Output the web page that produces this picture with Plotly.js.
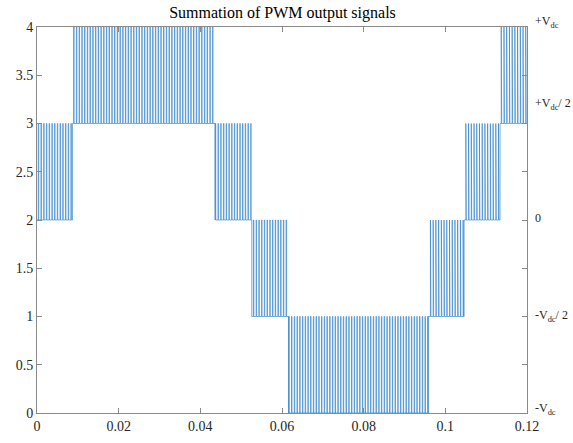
<!DOCTYPE html>
<html>
<head>
<meta charset="utf-8">
<script src="https://cdn.plot.ly/plotly-3.0.1.min.js"></script>
<style>html,body{margin:0;padding:0;background:#fff;}#chart{width:573px;height:443px;}</style>
</head>
<body>
<div id="chart"></div>
<script>
// Band boundaries (ms) and the lower level of each band
var bandEdgesMs = [0, 8.7, 43.6, 52.6, 61.6, 95.8, 104.6, 113.4, 120];
var bandLow = [2, 3, 2, 1, 0, 1, 2, 3];
// Pulse (switching) times, ms
var pulseTimesMs = [0.30,0.97,1.63,2.30,2.97,3.64,4.30,4.97,5.64,6.30,6.97,7.64,8.30,8.97,9.64,10.31,10.97,11.64,12.31,12.97,
13.64,14.31,14.97,15.64,16.31,16.98,17.64,18.31,18.98,19.64,20.31,20.98,21.64,22.31,22.98,23.65,24.31,24.98,25.65,26.31,
26.98,27.65,28.31,28.98,29.65,30.32,30.98,31.65,32.32,32.98,33.65,34.32,34.98,35.65,36.32,36.99,37.65,38.32,38.99,39.65,
40.32,40.99,41.65,42.32,42.99,43.66,44.32,44.99,45.66,46.32,46.99,47.66,48.32,48.99,49.66,50.33,50.99,51.66,52.33,52.99,
53.66,54.33,54.99,55.66,56.33,57.00,57.66,58.33,59.00,59.66,60.33,61.00,61.66,62.33,63.00,63.67,64.33,65.00,65.67,66.33,
67.00,67.67,68.33,69.00,69.67,70.34,71.00,71.67,72.34,73.00,73.67,74.34,75.00,75.67,76.34,77.01,77.67,78.34,79.01,79.67,
80.34,81.01,81.67,82.34,83.01,83.68,84.34,85.01,85.68,86.34,87.01,87.68,88.34,89.01,89.68,90.35,91.01,91.68,92.35,93.01,
93.68,94.35,95.01,95.68,96.35,97.02,97.68,98.35,99.02,99.68,100.35,101.02,101.68,102.35,103.02,103.69,104.35,105.02,105.69,106.35,
107.02,107.69,108.35,109.02,109.69,110.36,111.02,111.69,112.36,113.02,113.69,114.36,115.02,115.69,116.36,117.03,117.69,118.36,119.03,119.69];
var pulseWidthMs = 0.12;
var xTickVals = [0, 0.02, 0.04, 0.06, 0.08, 0.1, 0.12];
var xTickText = ['0', '0.02', '0.04', '0.06', '0.08', '0.1', '0.12'];
var yTickVals = [0, 0.5, 1, 1.5, 2, 2.5, 3, 3.5, 4];
var yTickText = ['0', '0.5', '1', '1.5', '2', '2.5', '3', '3.5', '4'];
var rightLabels = ['+V<sub>dc</sub>', '+V<sub>dc</sub>/ 2', '0', '-V<sub>dc</sub>/ 2', '-V<sub>dc</sub>'];
var rightLabelPaperY = [1.014, 0.80, 0.505, 0.252, 0.01];

var xs = [], ys = [];
for (var b = 0; b < bandLow.length; b++) {
  var s = bandEdgesMs[b], e = bandEdgesMs[b + 1], lo = bandLow[b], hi = lo + 1;
  xs.push(s / 1000); ys.push(lo);
  for (var i = 0; i < pulseTimesMs.length; i++) {
    var t = pulseTimesMs[i];
    if (t >= s && t < e) {
      var t2 = Math.min(t + pulseWidthMs, e);
      xs.push(t / 1000, t / 1000, t2 / 1000, t2 / 1000);
      ys.push(lo, hi, hi, lo);
    }
  }
  xs.push(e / 1000); ys.push(lo);
}

var data = [{
  x: xs, y: ys, type: 'scatter', mode: 'lines',
  line: {color: '#1f77c4', width: 0.6}, hoverinfo: 'skip'
}];

var annotations = rightLabels.map(function (txt, k) {
  return {
    text: txt, xref: 'paper', yref: 'paper', x: 1, y: rightLabelPaperY[k],
    xanchor: 'left', yanchor: 'middle', xshift: 6, showarrow: false,
    font: {family: 'Liberation Serif, Times New Roman, serif', size: 12, color: '#262626'}
  };
});

var axisCommon = {
  showgrid: false, zeroline: false, showline: true, linecolor: '#8a8a8a', linewidth: 1,
  mirror: 'ticks', ticks: 'inside', ticklen: 5, tickcolor: '#8a8a8a', tickwidth: 1,
  tickfont: {family: 'Liberation Serif, Times New Roman, serif', size: 14, color: '#262626'}
};

var layout = {
  width: 573, height: 443,
  margin: {l: 37, r: 46, t: 27, b: 30},
  paper_bgcolor: '#fff', plot_bgcolor: '#fff',
  showlegend: false,
  title: {text: 'Summation of PWM output signals', x: 0.493, xanchor: 'center', y: 0.972, yanchor: 'middle',
    font: {family: 'Liberation Serif, Times New Roman, serif', size: 16, color: '#000'}},
  xaxis: Object.assign({}, axisCommon, {range: [0, 0.12], tickvals: xTickVals, ticktext: xTickText}),
  yaxis: Object.assign({}, axisCommon, {range: [0, 4], tickvals: yTickVals, ticktext: yTickText}),
  annotations: annotations
};

Plotly.newPlot('chart', data, layout, {displayModeBar: false, staticPlot: true});
</script>
</body>
</html>
